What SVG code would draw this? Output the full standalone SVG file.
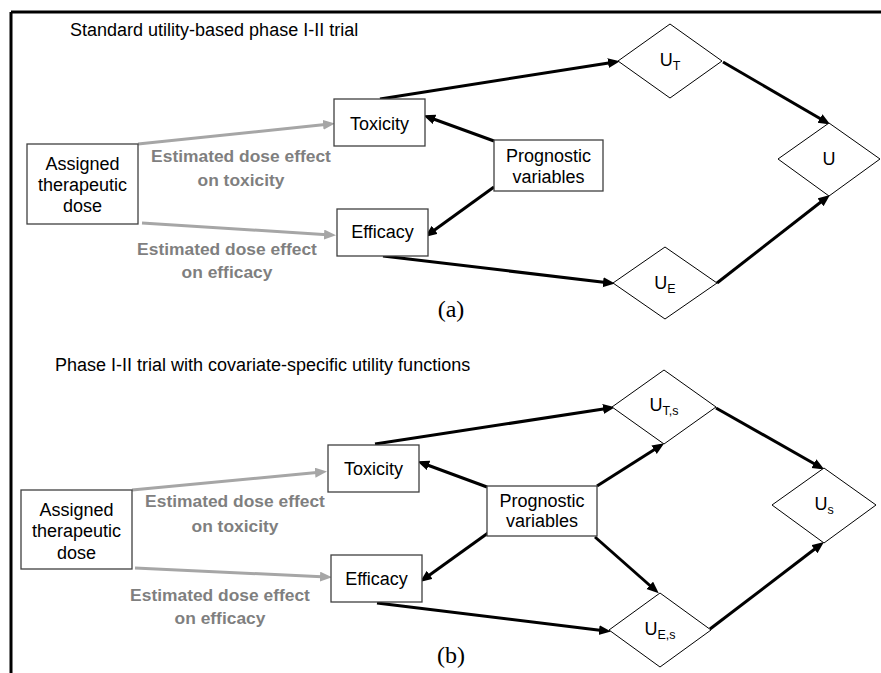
<svg xmlns="http://www.w3.org/2000/svg" width="881" height="673" viewBox="0 0 881 673">
<defs>
<marker id="ab" markerUnits="userSpaceOnUse" markerWidth="14" markerHeight="12" refX="7" refY="5" orient="auto"><path d="M0,0 L12,5 L0,10 z" fill="#000"/></marker>
<marker id="ag" markerUnits="userSpaceOnUse" markerWidth="14" markerHeight="12" refX="7" refY="5" orient="auto"><path d="M0,0 L12,5 L0,10 z" fill="#a6a6a6"/></marker>
<style>
.box{fill:#fff;stroke:#404040;stroke-width:1.3}
.dia{fill:#fff;stroke:#000;stroke-width:1}
.t{font-family:"Liberation Sans",Arial,sans-serif;font-size:18px;fill:#000;text-anchor:middle}
.ttl{font-family:"Liberation Sans",Arial,sans-serif;font-size:18px;fill:#000}
.g{font-family:"Liberation Sans",Arial,sans-serif;font-size:17.4px;font-weight:bold;fill:#7f7f7f;text-anchor:middle}
.cap{font-family:"Liberation Serif","Times New Roman",serif;font-size:24px;fill:#000;text-anchor:middle}
.sub{font-size:12.5px}
.bl{stroke:#000;stroke-width:3;fill:none;marker-end:url(#ab)}
.gr{stroke:#a6a6a6;stroke-width:3;fill:none;marker-end:url(#ag)}
</style>
</defs>
<rect width="881" height="673" fill="#fff"/>
<g id="frame" stroke="#000" stroke-width="3" fill="none">
<line x1="11" y1="12" x2="881" y2="12"/>
<line x1="11" y1="12" x2="11" y2="673"/>
</g>
<text class="ttl" x="70" y="36">Standard utility-based phase I-II trial</text>
<text class="ttl" x="55" y="371">Phase I-II trial with covariate-specific utility functions</text>
<text class="cap" x="451" y="317">(a)</text>
<text class="cap" x="451" y="663">(b)</text>

<g id="connectors">
<line class="gr" x1="138" y1="144" x2="330" y2="124"/>
<line class="gr" x1="142" y1="223" x2="331" y2="235"/>
<line class="bl" x1="494" y1="141" x2="428" y2="117"/>
<line class="bl" x1="494" y1="187" x2="429" y2="234"/>
<line class="bl" x1="380" y1="99" x2="615" y2="62"/>
<line class="bl" x1="723" y1="62" x2="826" y2="122"/>
<line class="bl" x1="383" y1="256" x2="610" y2="283"/>
<line class="bl" x1="717" y1="283" x2="826" y2="198"/>

<line class="gr" x1="132" y1="490" x2="322" y2="472"/>
<line class="gr" x1="135" y1="568" x2="327" y2="577"/>
<line class="bl" x1="487" y1="487" x2="422" y2="463"/>
<line class="bl" x1="488" y1="533" x2="424" y2="579"/>
<line class="bl" x1="375" y1="444" x2="610" y2="408"/>
<line class="bl" x1="716" y1="408" x2="820" y2="467"/>
<line class="bl" x1="377" y1="603" x2="606" y2="631"/>
<line class="bl" x1="710" y1="629" x2="820" y2="545"/>
<line class="bl" x1="597" y1="486" x2="660" y2="446"/>
<line class="bl" x1="595" y1="537" x2="655" y2="590"/>
</g>

<g id="labels_a">
<text class="g" x="241" y="162">Estimated dose effect</text>
<text class="g" x="241" y="186">on toxicity</text>
<text class="g" x="227" y="255">Estimated dose effect</text>
<text class="g" x="227" y="278">on efficacy</text>
</g>
<g id="labels_b">
<text class="g" x="235" y="507">Estimated dose effect</text>
<text class="g" x="235" y="532">on toxicity</text>
<text class="g" x="220" y="601">Estimated dose effect</text>
<text class="g" x="220" y="624">on efficacy</text>
</g>

<g id="a_assigned"><rect class="box" x="27" y="144" width="111" height="80"/>
<text class="t" x="82.5" y="170">Assigned</text><text class="t" x="82.5" y="191">therapeutic</text><text class="t" x="82.5" y="212">dose</text></g>
<g id="a_toxicity"><rect class="box" x="334" y="99" width="91" height="47"/><text class="t" x="379.5" y="130">Toxicity</text></g>
<g id="a_efficacy"><rect class="box" x="337" y="209" width="91" height="47"/><text class="t" x="382.5" y="238">Efficacy</text></g>
<g id="a_prognostic"><rect class="box" x="494" y="140" width="109" height="51"/>
<text class="t" x="548.5" y="162">Prognostic</text><text class="t" x="548.5" y="183">variables</text></g>
<g id="a_UT"><polygon class="dia" points="618,61 670,24 722,61 670,98"/><text class="t" x="670" y="66">U<tspan class="sub" dy="4">T</tspan></text></g>
<g id="a_U"><polygon class="dia" points="778,159 829,123 880,159 829,196"/><text class="t" x="829" y="165">U</text></g>
<g id="a_UE"><polygon class="dia" points="613,283 665,247 717,283 665,319"/><text class="t" x="665" y="289">U<tspan class="sub" dy="4">E</tspan></text></g>

<g id="b_assigned"><rect class="box" x="21" y="490" width="111" height="79"/>
<text class="t" x="76.5" y="516">Assigned</text><text class="t" x="76.5" y="537">therapeutic</text><text class="t" x="76.5" y="559">dose</text></g>
<g id="b_toxicity"><rect class="box" x="328" y="445" width="91" height="47"/><text class="t" x="373.5" y="475">Toxicity</text></g>
<g id="b_efficacy"><rect class="box" x="331" y="555" width="91" height="47"/><text class="t" x="376.5" y="585">Efficacy</text></g>
<g id="b_prognostic"><rect class="box" x="487" y="486" width="110" height="50"/>
<text class="t" x="542" y="507">Prognostic</text><text class="t" x="542" y="527">variables</text></g>
<g id="b_UTs"><polygon class="dia" points="612,407 664,370 716,407 664,444"/><text class="t" x="664" y="411">U<tspan class="sub" dy="4">T,s</tspan></text></g>
<g id="b_Us"><polygon class="dia" points="772,505 824,468 876,505 824,543"/><text class="t" x="824" y="510">U<tspan class="sub" dy="4">s</tspan></text></g>
<g id="b_UEs"><polygon class="dia" points="609,630 660,593 711,630 660,667"/><text class="t" x="660" y="635">U<tspan class="sub" dy="4">E,s</tspan></text></g>
</svg>
